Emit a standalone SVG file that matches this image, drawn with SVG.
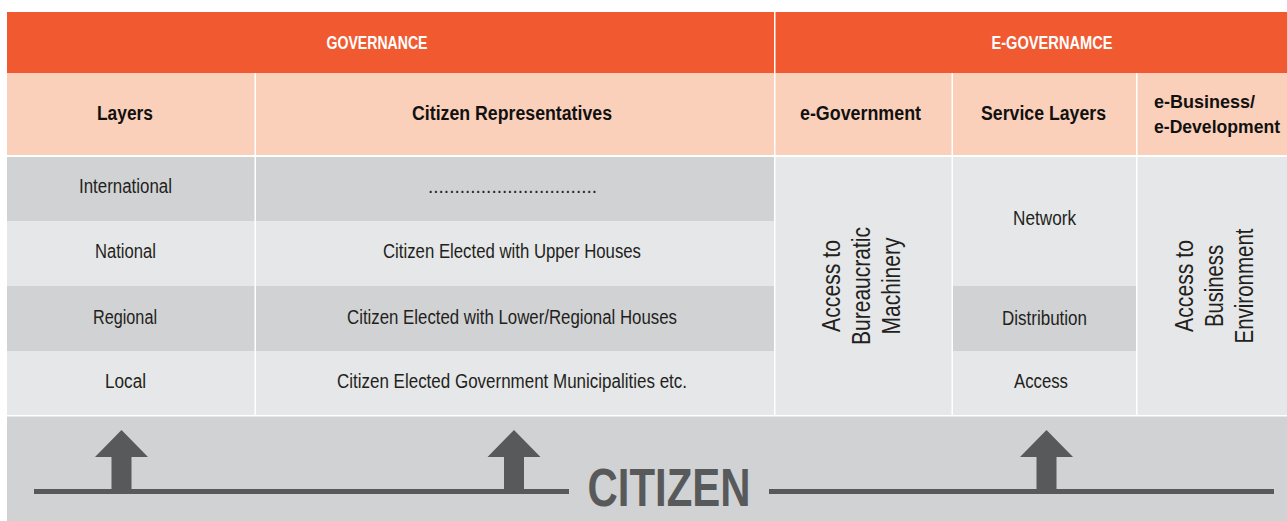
<svg xmlns="http://www.w3.org/2000/svg" width="1287" height="521" viewBox="0 0 1287 521">
<style>
  .t { font-family: "Liberation Sans Narrow", "Liberation Sans", Arial, sans-serif; }
  .top { fill: #FFFFFF; font-weight: bold; font-size: 18px; text-anchor: middle; }
  .hdr { fill: #111111; font-weight: bold; font-size: 20px; text-anchor: middle; }
  .hdrl { fill: #111111; font-weight: bold; font-size: 18.5px; text-anchor: start; }
  .body { fill: #231F20; font-size: 20px; text-anchor: middle; }
  .vert { fill: #231F20; font-size: 26px; text-anchor: middle; }
  .cit { fill: #58595B; font-weight: bold; font-size: 54px; text-anchor: middle; }
  .orange { fill: #F15A31; }
  .peach { fill: #FBD0BA; }
  .dark { fill: #D1D2D4; }
  .light { fill: #E6E7E8; }
  .ink { fill: #58595B; }
</style>
<defs>
  <path id="arrow" d="M0,0 L26.5,27 L10,27 L10,60 L-10,60 L-10,27 L-26.5,27 Z"/>
</defs>
<rect x="0" y="0" width="1287" height="521" fill="#FFFFFF"/>

<g id="governance-header">
  <rect class="orange" x="7" y="12" width="767" height="61"/>
  <text class="t top" x="377" y="49" textLength="101" lengthAdjust="spacingAndGlyphs">GOVERNANCE</text>
</g>
<g id="egovernance-header">
  <rect class="orange" x="775.5" y="12" width="511.5" height="61"/>
  <text class="t top" x="1052" y="49" textLength="121" lengthAdjust="spacingAndGlyphs">E-GOVERNAMCE</text>
</g>

<g id="hdr-layers">
  <rect class="peach" x="7" y="73" width="247.5" height="82"/>
  <text class="t hdr" x="125" y="120" textLength="56" lengthAdjust="spacingAndGlyphs">Layers</text>
</g>
<g id="hdr-citizen-rep">
  <rect class="peach" x="256" y="73" width="518" height="82"/>
  <text class="t hdr" x="512" y="120" textLength="200" lengthAdjust="spacingAndGlyphs">Citizen Representatives</text>
</g>
<g id="hdr-egov">
  <rect class="peach" x="775.5" y="73" width="176" height="82"/>
  <text class="t hdr" x="860.5" y="120" textLength="121" lengthAdjust="spacingAndGlyphs">e-Government</text>
</g>
<g id="hdr-service">
  <rect class="peach" x="953" y="73" width="183" height="82"/>
  <text class="t hdr" x="1043.5" y="120" textLength="125" lengthAdjust="spacingAndGlyphs">Service Layers</text>
</g>
<g id="hdr-ebusiness">
  <rect class="peach" x="1137.5" y="73" width="149.5" height="82"/>
  <text class="t hdrl" x="1154" y="108" textLength="101" lengthAdjust="spacingAndGlyphs">e-Business/</text>
  <text class="t hdrl" x="1154" y="133" textLength="126" lengthAdjust="spacingAndGlyphs">e-Development</text>
</g>

<g id="row-international">
  <rect class="dark" x="7" y="157" width="247.5" height="64"/>
  <rect class="dark" x="256" y="157" width="518" height="64"/>
  <text class="t body" x="125.5" y="193" textLength="93" lengthAdjust="spacingAndGlyphs">International</text>
  <text class="t body" x="512.5" y="193" textLength="169" lengthAdjust="spacingAndGlyphs">................................</text>
</g>
<g id="row-national">
  <rect class="light" x="7" y="221" width="247.5" height="65"/>
  <rect class="light" x="256" y="221" width="518" height="65"/>
  <text class="t body" x="125.5" y="258" textLength="61" lengthAdjust="spacingAndGlyphs">National</text>
  <text class="t body" x="512" y="258" textLength="258" lengthAdjust="spacingAndGlyphs">Citizen Elected with Upper Houses</text>
</g>
<g id="row-regional">
  <rect class="dark" x="7" y="286" width="247.5" height="65"/>
  <rect class="dark" x="256" y="286" width="518" height="65"/>
  <text class="t body" x="125" y="324" textLength="64" lengthAdjust="spacingAndGlyphs">Regional</text>
  <text class="t body" x="512" y="324" textLength="330" lengthAdjust="spacingAndGlyphs">Citizen Elected with Lower/Regional Houses</text>
</g>
<g id="row-local">
  <rect class="light" x="7" y="351" width="247.5" height="64"/>
  <rect class="light" x="256" y="351" width="518" height="64"/>
  <text class="t body" x="125.5" y="388" textLength="41" lengthAdjust="spacingAndGlyphs">Local</text>
  <text class="t body" x="512" y="388" textLength="350" lengthAdjust="spacingAndGlyphs">Citizen Elected Government Municipalities etc.</text>
</g>

<g id="egov-access">
  <rect class="light" x="775.5" y="157" width="176" height="258"/>
  <text class="t vert" transform="translate(840,286) rotate(-90)" textLength="92" lengthAdjust="spacingAndGlyphs">Access to</text>
  <text class="t vert" transform="translate(870,286) rotate(-90)" textLength="118" lengthAdjust="spacingAndGlyphs">Bureaucratic</text>
  <text class="t vert" transform="translate(900,286) rotate(-90)" textLength="97" lengthAdjust="spacingAndGlyphs">Machinery</text>
</g>

<g id="svc-network">
  <rect class="light" x="953" y="157" width="183" height="129"/>
  <text class="t body" x="1044.5" y="225" textLength="63" lengthAdjust="spacingAndGlyphs">Network</text>
</g>
<g id="svc-distribution">
  <rect class="dark" x="953" y="286" width="183" height="65"/>
  <text class="t body" x="1044.5" y="325" textLength="85" lengthAdjust="spacingAndGlyphs">Distribution</text>
</g>
<g id="svc-access">
  <rect class="light" x="953" y="351" width="183" height="64"/>
  <text class="t body" x="1041" y="388" textLength="54" lengthAdjust="spacingAndGlyphs">Access</text>
</g>

<g id="ebiz-access">
  <rect class="light" x="1137.5" y="157" width="149.5" height="258"/>
  <text class="t vert" transform="translate(1193,286) rotate(-90)" textLength="92" lengthAdjust="spacingAndGlyphs">Access to</text>
  <text class="t vert" transform="translate(1223,286) rotate(-90)" textLength="82" lengthAdjust="spacingAndGlyphs">Business</text>
  <text class="t vert" transform="translate(1253,286) rotate(-90)" textLength="115" lengthAdjust="spacingAndGlyphs">Environment</text>
</g>

<g id="citizen">
  <rect class="dark" x="7" y="416.5" width="1280" height="104.5"/>
  <text class="t cit" x="669" y="505.5" textLength="163" lengthAdjust="spacingAndGlyphs">CITIZEN</text>
</g>

<g id="connectors">
  <rect class="ink" x="34" y="489" width="535" height="5"/>
  <rect class="ink" x="769" y="489" width="505" height="5"/>
  <use href="#arrow" class="ink" x="121.5" y="430"/>
  <use href="#arrow" class="ink" x="514" y="430"/>
  <use href="#arrow" class="ink" x="1046.5" y="430"/>
</g>
</svg>
